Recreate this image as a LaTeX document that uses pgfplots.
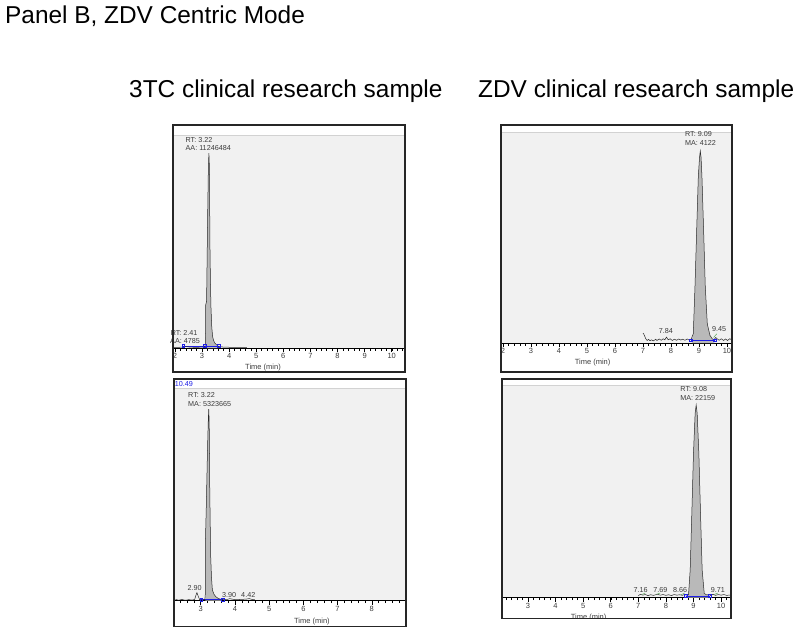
\documentclass[border=0pt]{standalone}
\usepackage{fontspec}
\setmainfont{Liberation Sans}
\usepackage{pgfplots}
\pgfplotsset{compat=1.18}
\definecolor{bgc}{RGB}{241,241,241}
\definecolor{pkc}{RGB}{185,185,185}
\definecolor{trc}{RGB}{40,40,40}
\definecolor{blc}{RGB}{30,30,230}
\definecolor{grc}{RGB}{90,170,90}
\definecolor{lbc}{RGB}{60,60,60}
\newcommand{\sm}{\fontsize{7.2}{8}\selectfont}
\pgfplotsset{chrom/.style={
  scale only axis, anchor=south west, clip=false,
  axis x line*=bottom, axis y line=none,
  ymin=0, ymax=100,
  axis background/.style={fill=bgc},
  x axis line style={-, black, line width=0.7pt},
  tick align=outside, major tick length=4pt, minor tick length=2.5pt,
  every tick/.append style={black, line width=0.5pt},
  every minor tick/.append style={black, line width=0.4pt},
  xticklabel style={font=\fontsize{7.5}{8}\selectfont, text=lbc, inner sep=1pt},
  /pgf/number format/assume math mode=true,
},
trace/.style={trc, line width=0.5pt, mark=none},
pkfill/.style={fill=pkc, draw=none, mark=none},
bline/.style={blc, line width=0.7pt, mark=square, mark size=1.3pt, mark options={solid, blc, fill=none}},
gline/.style={grc, line width=0.5pt, mark=none},
}
\begin{document}
\begin{tikzpicture}[x=1pt,y=1pt]
\useasboundingbox (0,0) rectangle (800,633);
\node[anchor=base west, font=\fontsize{24.4}{28}\selectfont, inner sep=0pt] at (5,609) {Panel B, ZDV Centric Mode};
\node[anchor=base west, font=\fontsize{24.4}{28}\selectfont, inner sep=0pt] at (129,535.5) {3TC clinical research sample};
\node[anchor=base west, font=\fontsize{24.4}{28}\selectfont, inner sep=0pt] at (478,535.5) {ZDV clinical research sample};

% Panel 1: top-left
\begin{axis}[chrom, at={(173pt,285pt)}, width=232pt, height=213pt,
  xmin=1.93, xmax=10.49, xtick={2,...,10},
  minor xtick={2.2,2.4,...,10.41}]
\draw[gray!35] (rel axis cs:0,1) -- (rel axis cs:1,1);
\addplot[pkfill] coordinates {(3.128,0)(3.132,20)(3.169,22)(3.206,60)(3.235,85)(3.255,91.5)(3.27,86)(3.279,80)(3.29,51)(3.31,32)(3.33,19.5)(3.36,10)(3.39,5.5)(3.43,3.4)(3.476,2.3)(3.60,0.8)(3.60,0)};
\addplot[bline] coordinates {(2.31,1.0)(3.11,1.0)(3.62,1.0)};
\addplot[trace] coordinates {(1.95,0.3)(2.1,0.3)(2.25,0.4)(2.41,0.7)(2.55,0.4)(2.8,0.3)(3.0,0.4)(3.10,0.6)(3.128,2)(3.132,20)(3.169,22)(3.206,60)(3.235,85)(3.255,91.5)(3.27,86)(3.279,80)(3.29,51)(3.31,32)(3.33,19.5)(3.36,10)(3.39,5.5)(3.43,3.4)(3.476,2.3)(3.60,0.8)(3.8,0.4)(4.2,0.3)(4.66,0.3)};
\node[anchor=base west, font=\sm, text=lbc, inner sep=0pt] at (axis cs:2.39,96.4) {RT: 3.22};
\node[anchor=base west, font=\sm, text=lbc, inner sep=0pt] at (axis cs:2.39,92.6) {AA: 11246484};
\node[anchor=base west, font=\sm, text=lbc, inner sep=0pt] at (axis cs:1.84,6.1) {RT: 2.41};
\node[anchor=base west, font=\sm, text=lbc, inner sep=0pt] at (axis cs:1.82,1.9) {AA: 4785};
\node[font=\fontsize{7.5}{8}\selectfont, text=lbc, inner sep=0pt] at (axis cs:5.25,-9.4) {Time (min)};
\end{axis}

% Panel 2: top-right
\begin{axis}[chrom, at={(501pt,290pt)}, width=231pt, height=211pt,
  xmin=1.93, xmax=10.18, xtick={2,...,10},
  minor xtick={2.2,2.4,...,10.11}]
\draw[gray!35] (rel axis cs:0,1) -- (rel axis cs:1,1);
\addplot[pkfill] coordinates {(8.75,0)(8.75,1.8)(8.797,4.4)(8.857,26.5)(8.917,53)(8.976,78.7)(9.02,88)(9.048,91)(9.075,88)(9.107,78.7)(9.167,53)(9.226,26.5)(9.298,9)(9.393,3.6)(9.476,2.0)(9.55,1.5)(9.55,0)};
\addplot[bline] coordinates {(8.71,1.3)(9.57,1.3)};
\addplot[trace] coordinates {(7.0,4.7)(7.03,4.2)(7.07,3.0)(7.1,2.0)(7.15,1.2)(7.2,1.7)(7.25,1.1)(7.3,1.5)(7.38,1.0)(7.45,1.8)(7.5,1.2)(7.58,1.9)(7.65,1.3)(7.72,2.0)(7.78,1.5)(7.84,2.8)(7.9,1.5)(7.97,2.0)(8.05,1.2)(8.12,1.8)(8.2,1.3)(8.28,1.9)(8.35,1.4)(8.42,1.8)(8.5,1.3)(8.58,1.9)(8.65,1.4)(8.72,1.8)(8.797,4.4)(8.857,26.5)(8.917,53)(8.976,78.7)(9.02,88)(9.048,91)(9.075,88)(9.107,78.7)(9.167,53)(9.226,26.5)(9.298,9)(9.393,3.6)(9.476,2.0)(9.53,1.5)(9.6,2.6)(9.65,2.0)(9.72,1.3)(9.8,2.0)(9.88,1.2)(9.95,1.9)(10.02,1.2)(10.1,2.0)(10.18,1.5)};
\addplot[gline] coordinates {(9.52,2.6)(9.64,4.4)};
\node[anchor=base west, font=\sm, text=lbc, inner sep=0pt] at (axis cs:8.5,97.8) {RT: 9.09};
\node[anchor=base west, font=\sm, text=lbc, inner sep=0pt] at (axis cs:8.5,93.4) {MA: 4122};
\node[anchor=base, font=\sm, text=lbc, inner sep=0pt] at (axis cs:7.82,4.6) {7.84};
\node[anchor=base, font=\sm, text=lbc, inner sep=0pt] at (axis cs:9.72,5.6) {9.45};
\node[font=\fontsize{7.5}{8}\selectfont, text=lbc, inner sep=0pt] at (axis cs:5.2,-9.5) {Time (min)};
\end{axis}

% Panel 3: bottom-left
\begin{axis}[chrom, at={(174pt,32.3pt)}, width=232pt, height=212.7pt,
  xmin=2.22, xmax=9.0, xtick={3,...,8},
  minor xtick={2.4,2.6,...,8.91}]
\draw[gray!35] (rel axis cs:0,1) -- (rel axis cs:1,1);
\addplot[pkfill] coordinates {(3.135,0)(3.137,27)(3.166,46)(3.196,69)(3.22,84)(3.235,90.1)(3.245,86)(3.254,77)(3.264,54)(3.278,36)(3.293,20.7)(3.315,11)(3.342,5)(3.39,3)(3.44,1.9)(3.52,1.0)(3.606,0.6)(3.606,0)};
\addplot[bline] coordinates {(3.02,0.5)(3.65,0.5)};
\addplot[trace] coordinates {(2.22,0.3)(2.3,0.5)(2.35,0.2)(2.45,0.6)(2.55,0.2)(2.65,0.5)(2.75,0.3)(2.824,0.6)(2.86,2.5)(2.89,3.8)(2.93,2.0)(2.97,0.5)(3.05,0.4)(3.12,0.5)(3.135,3)(3.137,27)(3.166,46)(3.196,69)(3.22,84)(3.235,90.1)(3.245,86)(3.254,77)(3.264,54)(3.278,36)(3.293,20.7)(3.315,11)(3.342,5)(3.39,3)(3.44,1.9)(3.52,1.0)(3.606,0.6)(3.7,0.5)(3.8,0.7)(3.85,1.0)(3.9,0.8)(4.0,0.5)(4.2,0.6)(4.35,0.8)(4.42,1.0)(4.5,0.6)(4.58,0.5)};
\node[anchor=base west, font=\sm, text=blc, inner sep=0pt] at (axis cs:2.24,100.6) {10.49};
\node[anchor=base west, font=\sm, text=lbc, inner sep=0pt] at (axis cs:2.63,95.6) {RT: 3.22};
\node[anchor=base west, font=\sm, text=lbc, inner sep=0pt] at (axis cs:2.63,91.5) {MA: 5323665};
\node[anchor=base, font=\sm, text=lbc, inner sep=0pt] at (axis cs:2.82,5.0) {2.90};
\node[anchor=base, font=\sm, text=lbc, inner sep=0pt] at (axis cs:3.83,1.3) {3.90};
\node[anchor=base, font=\sm, text=lbc, inner sep=0pt] at (axis cs:4.39,1.3) {4.42};
\node[font=\fontsize{7.5}{8}\selectfont, text=lbc, inner sep=0pt] at (axis cs:6.25,-10) {Time (min)};
\end{axis}

% Panel 4: bottom-right
\begin{axis}[chrom, at={(502pt,35.3pt)}, width=229pt, height=212.7pt,
  xmin=2.06, xmax=10.36, xtick={3,...,10},
  minor xtick={2.2,2.4,...,10.31}]
\draw[gray!35] (rel axis cs:0,1) -- (rel axis cs:1,1);
\addplot[pkfill] coordinates {(8.78,0)(8.82,1.3)(8.88,13)(8.94,39.7)(9.0,67.9)(9.06,86.7)(9.098,90.6)(9.134,86.7)(9.195,67.9)(9.255,39.7)(9.315,13)(9.39,2)(9.48,1.3)(9.55,1.5)(9.58,0)};
\addplot[bline] coordinates {(8.72,0.8)(9.60,0.8)};
\addplot[trace] coordinates {(7.0,1.0)(7.08,1.6)(7.16,1.2)(7.25,1.5)(7.35,1.0)(7.45,1.4)(7.55,1.1)(7.69,1.6)(7.8,1.2)(7.9,1.5)(8.0,1.1)(8.1,1.4)(8.2,1.0)(8.3,1.5)(8.4,1.2)(8.5,1.4)(8.6,1.1)(8.66,1.5)(8.75,1.2)(8.82,1.3)(8.88,13)(8.94,39.7)(9.0,67.9)(9.06,86.7)(9.098,90.6)(9.134,86.7)(9.195,67.9)(9.255,39.7)(9.315,13)(9.39,2)(9.48,1.3)(9.55,1.5)(9.63,1.0)(9.71,1.6)(9.8,1.1)(9.9,1.5)(10.0,1.2)(10.1,1.5)(10.2,1.1)(10.36,1.3)};
\addplot[gline] coordinates {(7.13,1.5)(7.25,2.2)};
\addplot[gline] coordinates {(7.66,1.6)(7.80,2.2)};
\addplot[gline] coordinates {(8.55,1.4)(8.68,2.2)};
\addplot[gline] coordinates {(9.75,1.5)(9.88,2.2)};
\node[anchor=base west, font=\sm, text=lbc, inner sep=0pt] at (axis cs:8.52,96.9) {RT: 9.08};
\node[anchor=base west, font=\sm, text=lbc, inner sep=0pt] at (axis cs:8.52,92.6) {MA: 22159};
\node[anchor=base, font=\sm, text=lbc, inner sep=0pt] at (axis cs:7.08,2.4) {7.16};
\node[anchor=base, font=\sm, text=lbc, inner sep=0pt] at (axis cs:7.80,2.4) {7.69};
\node[anchor=base, font=\sm, text=lbc, inner sep=0pt] at (axis cs:8.52,2.4) {8.66};
\node[anchor=base, font=\sm, text=lbc, inner sep=0pt] at (axis cs:9.88,2.4) {9.71};
\node[font=\fontsize{7.5}{8}\selectfont, text=lbc, inner sep=0pt] at (axis cs:5.2,-9.1) {Time (min)};
\end{axis}

\fill[white] (498,0) rectangle (736,14.7);
\draw[line width=1.5pt, black!85] (173,261) rectangle (405,508);
\draw[line width=1.5pt, black!85] (501,261) rectangle (732,508);
\draw[line width=1.5pt, black!85] (174,6.3) rectangle (406,254);
\draw[line width=1.5pt, black!85] (502,14.7) rectangle (731,254);
\end{tikzpicture}
\end{document}
